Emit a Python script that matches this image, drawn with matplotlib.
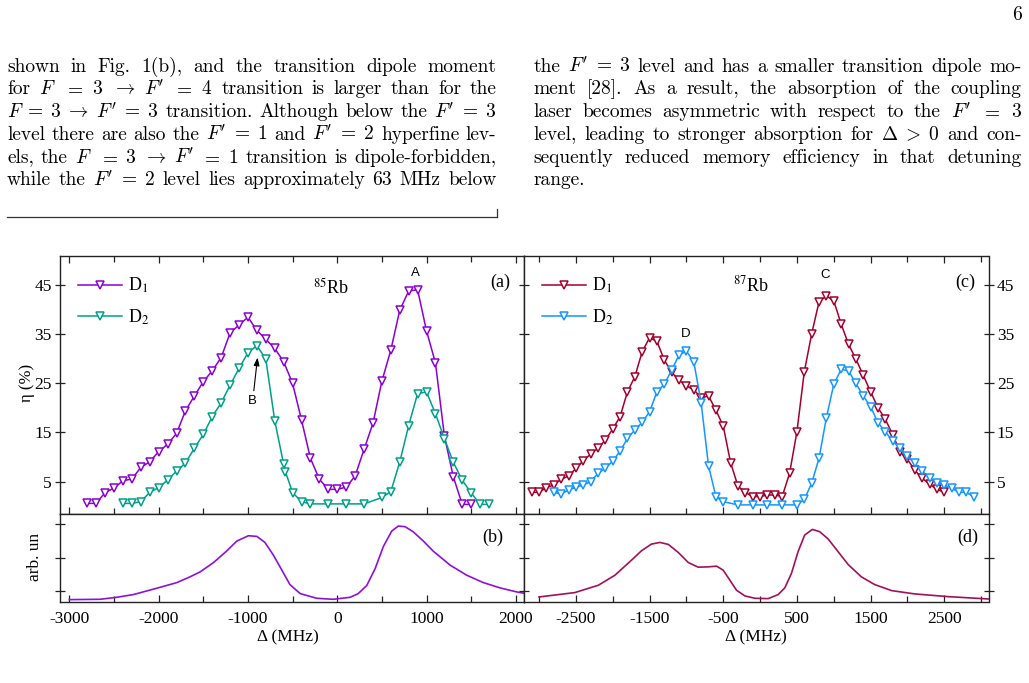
import numpy as np
import matplotlib
matplotlib.use("Agg")
import matplotlib.pyplot as plt
from matplotlib.lines import Line2D
from matplotlib.transforms import IdentityTransform

W, H, DPI = 1029, 683, 100

# --- data ---
# (a) 85Rb
x_a_d1 = [-2800, -2700, -2600, -2500, -2400, -2300, -2200, -2100, -2000, -1900,
          -1800, -1700, -1600, -1500, -1400, -1300, -1200, -1100, -1000, -900,
          -800, -700, -600, -500, -400, -300, -200, -100, 0, 100,
          200, 300, 400, 500, 600, 700, 800, 900, 1000, 1100,
          1200, 1300, 1400, 1500]
y_a_d1 = [0.6, 0.6, 2.8, 3.7, 5.2, 5.55, 7.9, 9.05, 11.1, 12.6,
          14.8, 19.4, 22.4, 25.3, 27.5, 30.2, 35.2, 36.8, 38.4, 35.7,
          33.9, 32.05, 29.35, 24.95, 17.5, 9.75, 5.5, 3.45, 3.45, 3.9,
          6.15, 11.55, 16.85, 25.4, 31.7, 39.8, 43.7, 43.95, 35.6, 29.1,
          14.3, 6.0, 0.4, 0.4]
x_a_d2 = [-2400, -2300, -2200, -2100, -2000, -1900, -1800, -1700, -1600, -1500,
          -1400, -1300, -1200, -1100, -1000, -900, -800, -700, -600, -580,
          -500, -400, -300, -100, 100, 300, 500, 600, 700, 800,
          900, 1000, 1100, 1200, 1300, 1400, 1500, 1600, 1700]
y_a_d2 = [0.6, 0.6, 0.95, 2.85, 3.8, 5.35, 7.15, 8.8, 11.8, 14.6,
          18.2, 21.0, 24.6, 28.0, 31.2, 32.6, 29.9, 17.4, 8.5, 7.0,
          2.8, 0.95, 0.5, 0.5, 0.5, 0.5, 1.8, 3.0, 9.0, 16.4,
          22.9, 23.2, 18.8, 13.75, 8.95, 5.3, 2.75, 0.4, 0.4]

# (c) 87Rb
x_c_d1 = [-3100, -3000, -2900, -2800, -2700, -2600, -2500, -2400, -2300, -2200,
          -2100, -2000, -1900, -1800, -1700, -1600, -1500, -1400, -1300, -1200,
          -1100, -1000, -900, -800, -700, -600, -500, -400, -300, -200,
          -100, 0, 100, 200, 300, 400, 500, 600, 700, 800,
          900, 1000, 1100, 1200, 1300, 1400, 1500, 1600, 1700, 1800,
          1900, 2000, 2100, 2200, 2300, 2400, 2500]
y_c_d1 = [2.85, 2.85, 3.8, 4.35, 5.5, 6.15, 7.7, 9.25, 10.6, 11.8,
          13.45, 15.7, 18.2, 23.25, 26.3, 31.4, 34.2, 33.5, 29.7, 27.2,
          25.6, 24.4, 23.7, 22.0, 22.4, 19.55, 16.3, 8.85, 4.1, 2.8,
          2.0, 2.0, 2.3, 2.3, 2.0, 6.7, 15.15, 27.3, 35.0, 41.5,
          42.7, 41.7, 37.0, 32.9, 29.9, 26.6, 23.25, 20.0, 17.7, 14.5,
          11.1, 9.55, 7.35, 5.7, 4.5, 3.45, 2.85]
x_c_d2 = [-2800, -2700, -2600, -2500, -2400, -2300, -2200, -2100, -2000, -1900,
          -1800, -1700, -1600, -1500, -1400, -1300, -1200, -1100, -1000, -900,
          -800, -700, -600, -500, -300, -100, 100, 300, 500, 600,
          700, 800, 900, 1000, 1100, 1200, 1300, 1400, 1500, 1600,
          1700, 1800, 1900, 2000, 2100, 2200, 2300, 2400, 2500, 2600,
          2700, 2800, 2900]
y_c_d2 = [2.85, 2.5, 3.3, 3.85, 4.35, 5.0, 6.7, 7.7, 9.2, 11.2,
          13.8, 15.5, 17.05, 19.2, 23.25, 24.8, 27.65, 30.7, 31.5, 29.35,
          21.05, 8.25, 2.0, 0.95, 0.3, 0.3, 0.3, 0.3, 0.3, 1.4,
          4.7, 9.75, 18.0, 24.75, 27.8, 27.5, 24.95, 22.45, 20.2, 17.0,
          15.15, 13.25, 11.8, 10.2, 8.75, 7.15, 5.8, 4.8, 4.35, 3.65,
          2.85, 2.85, 1.9]

# (b), (d) absorption spectra, arb. units
x_b = [-3000, -2655, -2470, -2285, -2035, -1795, -1650, -1535, -1385, -1240,
       -1125, -995, -900, -810, -715, -620, -530, -415, -230, -45,
       145, 235, 330, 425, 515, 610, 685, 760, 850, 965,
       1075, 1265, 1450, 1635, 1825, 2010, 2095]
y_b = [-0.125, -0.12, -0.09, -0.05, 0.04, 0.13, 0.215, 0.29, 0.43, 0.60,
       0.75, 0.83, 0.82, 0.73, 0.54, 0.315, 0.10, -0.035, -0.105, -0.12,
       -0.09, -0.035, 0.085, 0.34, 0.665, 0.90, 0.975, 0.965, 0.89, 0.75,
       0.60, 0.39, 0.24, 0.13, 0.05, -0.01, -0.03]
x_d = [-3000, -2515, -2195, -1970, -1745, -1610, -1475, -1360, -1245, -1110,
       -975, -840, -705, -590, -500, -410, -320, -205, -70, 110,
       245, 335, 425, 515, 605, 710, 810, 925, 1060, 1195,
       1375, 1555, 1785, 2100, 2550, 3095]
y_d = [-0.085, -0.02, 0.09, 0.24, 0.465, 0.605, 0.705, 0.73, 0.70, 0.58,
       0.43, 0.36, 0.365, 0.375, 0.315, 0.165, 0.015, -0.07, -0.105, -0.11,
       -0.05, 0.05, 0.265, 0.59, 0.84, 0.925, 0.89, 0.78, 0.59, 0.40,
       0.215, 0.10, 0.01, -0.04, -0.08, -0.115]

C_A1, C_A2 = '#8B00D2', '#00A088'
C_C1, C_C2 = '#A3002C', '#1496FF'
C_B, C_D = '#9010D8', '#A3105A'
SPINE = '#222222'

plt.rcParams['font.family'] = ['Liberation Serif']
plt.rcParams['mathtext.fontset'] = 'stix'
plt.rcParams['axes.unicode_minus'] = False

fig = plt.figure(figsize=(W / DPI, H / DPI), dpi=DPI)


def rect(x0, y0, x1, y1):
    return [x0 / W, 1 - y1 / H, (x1 - x0) / W, (y1 - y0) / H]


ax_a = fig.add_axes(rect(60, 256, 524.3, 514))
ax_c = fig.add_axes(rect(524.3, 256, 988.5, 514))
ax_b = fig.add_axes(rect(60, 514, 524.3, 602.3))
ax_d = fig.add_axes(rect(524.3, 514, 988.5, 602.3))

mk = dict(marker='v', mfc='white', ms=5.5, mew=1.1, lw=1.1)
ax_a.plot(x_a_d1, y_a_d1, color=C_A1, mec=C_A1, label='D$_1$', **mk)
ax_a.plot(x_a_d2, y_a_d2, color=C_A2, mec=C_A2, label='D$_2$', **mk)
ax_c.plot(x_c_d1, y_c_d1, color=C_C1, mec=C_C1, label='D$_1$', **mk)
ax_c.plot(x_c_d2, y_c_d2, color=C_C2, mec=C_C2, label='D$_2$', **mk)
ax_b.plot(x_b, y_b, color=C_B, lw=1.2)
ax_d.plot(x_d, y_d, color=C_D, lw=1.2)

for ax in (ax_a, ax_b):
    ax.set_xlim(-3105, 2095)
    ax.set_xticks([-3000, -2000, -1000, 0, 1000, 2000])
    ax.set_xticks([-2500, -1500, -500, 500, 1500], minor=True)
for ax in (ax_c, ax_d):
    ax.set_xlim(-3200, 3100)
    ax.set_xticks([-2500, -1500, -500, 500, 1500, 2500])
    ax.set_xticks([-3000, -2000, -1000, 0, 1000, 2000, 3000], minor=True)
for ax in (ax_a, ax_c):
    ax.set_ylim(-1.55, 50.8)
    ax.set_yticks([5, 15, 25, 35, 45])
for ax in (ax_b, ax_d):
    ax.set_ylim(-0.165, 1.155)
    ax.set_yticks([0, 0.5, 1.0])
    ax.set_yticklabels([])

for ax in (ax_a, ax_b, ax_c, ax_d):
    for s in ax.spines.values():
        s.set_linewidth(1.0)
        s.set_color(SPINE)
    ax.tick_params(axis='x', which='major', direction='in', length=5, width=0.9,
                   labelsize=12.5, pad=6, color=SPINE)
    ax.tick_params(axis='x', which='minor', direction='in', length=4, width=0.9, color=SPINE)
    ax.tick_params(axis='y', direction='inout', length=7, width=0.9,
                   labelsize=12.5, pad=2.5, color=SPINE)

for ax in (ax_a, ax_c):
    ax.tick_params(axis='x', which='both', top=True, labelbottom=False)
ax_a.tick_params(axis='y', left=True, right=False, labelleft=True)
ax_c.tick_params(axis='y', left=True, right=True, labelleft=False, labelright=True)
ax_b.tick_params(axis='y', left=True, right=False)
ax_d.tick_params(axis='y', left=True, right=True)

for ax in (ax_a, ax_c):
    ax.legend(loc='upper left', bbox_to_anchor=(0.038, 0.923), frameon=False,
              fontsize=13, handlelength=2.45, handletextpad=0.35,
              labelspacing=0.68, borderpad=0, borderaxespad=0)

# panel labels
ax_a.text(0.969, 0.899, '(a)', transform=ax_a.transAxes, ha='right', va='center', fontsize=13)
ax_c.text(0.972, 0.899, '(c)', transform=ax_c.transAxes, ha='right', va='center', fontsize=13)
ax_b.text(0.955, 0.74, '(b)', transform=ax_b.transAxes, ha='right', va='center', fontsize=13)
ax_d.text(0.978, 0.74, '(d)', transform=ax_d.transAxes, ha='right', va='center', fontsize=13)

ax_a.text(-268, 43.2, '$^{85}$Rb', ha='left', va='baseline', fontsize=13)
ax_c.text(-366, 43.6, '$^{87}$Rb', ha='left', va='baseline', fontsize=13)

sans = dict(family='Liberation Sans', fontsize=9.5, ha='center', va='center')
ax_a.text(879, 47.3, 'A', **sans)
ax_c.text(888, 46.9, 'C', **sans)
ax_c.text(-1012, 35.0, 'D', **sans)
ax_a.annotate('B', xy=(-893, 30.2), xytext=(-947, 21.4),
              arrowprops=dict(arrowstyle='-|>,head_length=0.5,head_width=0.18',
                              color='k', lw=0.8, shrinkA=1, shrinkB=0), **sans)

fig.text(27 / W, 1 - 383 / H, 'η (%)', rotation=90, ha='center', va='center', fontsize=12)
fig.text(35 / W, 1 - 557 / H, 'arb. un', rotation=90, ha='center', va='center', fontsize=12.5)
fig.text(288 / W, 1 - 637 / H, 'Δ (MHz)', ha='center', va='center', fontsize=12.5)
fig.text(756 / W, 1 - 637 / H, 'Δ (MHz)', ha='center', va='center', fontsize=12.5)

# --- surrounding page text (two justified columns) ---
FS = 14
renderer = fig.canvas.get_renderer()


def put_line(tokens, x0, x1, ybase, justify=True):
    objs = [fig.text(0, 0, t, transform=IdentityTransform(), fontsize=FS,
                     family='cmr10', math_fontfamily='cm', va='baseline', ha='left')
            for t in tokens]
    widths = [o.get_window_extent(renderer).width for o in objs]
    if justify and len(tokens) > 1:
        gap = (x1 - x0 - sum(widths)) / (len(tokens) - 1)
    else:
        gap = FS * DPI / 72 * 0.333
    x = x0
    for o, w in zip(objs, widths):
        o.set_position((x, H - ybase))
        x += w + gap


left_col = [
    ['shown', 'in', 'Fig.', '1(b),', 'and', 'the', 'transition', 'dipole', 'moment'],
    ['for', '$F$', '$=$', '$3$', r'$\rightarrow$', "$F'$", '$=$', '$4$', 'transition',
     'is', 'larger', 'than', 'for', 'the'],
    [r"$F\;=\;3\;\rightarrow\;F'\;=\;3$", 'transition.', 'Although', 'below', 'the',
     r"$F'\;=\;3$"],
    ['level', 'there', 'are', 'also', 'the', r"$F'\;=\;1$", 'and', r"$F'\;=\;2$",
     'hyperfine', 'lev-'],
    ['els,', 'the', '$F$', '$=$', '$3$', r'$\rightarrow$', "$F'$", '$=$', '$1$', 'transition',
     'is', 'dipole-forbidden,'],
    ['while', 'the', r"$F'\;=\;2$", 'level', 'lies', 'approximately', '63', 'MHz', 'below'],
]
right_col = [
    ['the', r"$F'\;=\;3$", 'level', 'and', 'has', 'a', 'smaller', 'transition', 'dipole', 'mo-'],
    ['ment', '[28].', 'As', 'a', 'result,', 'the', 'absorption', 'of', 'the', 'coupling'],
    ['laser', 'becomes', 'asymmetric', 'with', 'respect', 'to', 'the', "$F'$", '$=$', '$3$'],
    ['level,', 'leading', 'to', 'stronger', 'absorption', 'for', r'$\Delta\;>\;0$', 'and', 'con-'],
    ['sequently', 'reduced', 'memory', 'efficiency', 'in', 'that', 'detuning'],
    ['range.'],
]
for i, toks in enumerate(left_col):
    put_line(toks, 7, 496.5, 71.7 + i * 22.75)
for i, toks in enumerate(right_col):
    put_line(toks, 533.5, 1021.7, 71.7 + i * 22.75, justify=(i < 5))

fig.text(1021.7, H - 20, '6', transform=IdentityTransform(), ha='right', va='baseline',
         fontsize=FS, family='cmr10')

fig.add_artist(Line2D([7 / W, 496.7 / W], [1 - 217 / H] * 2, transform=fig.transFigure,
                      color='#333333', lw=0.9))
fig.add_artist(Line2D([496.7 / W] * 2, [1 - 217 / H, 1 - 208.5 / H], transform=fig.transFigure,
                      color='#333333', lw=0.9))

fig.savefig('out.png', dpi=DPI)
